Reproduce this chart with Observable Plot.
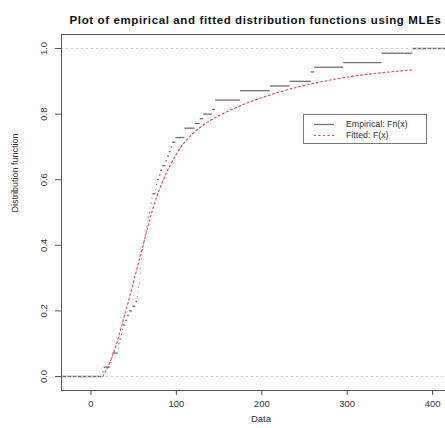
<!DOCTYPE html>
<html><head><meta charset="utf-8">
<script src="https://cdn.jsdelivr.net/npm/d3@7"></script>
<script src="https://cdn.jsdelivr.net/npm/@observablehq/plot@0.6"></script>
<style>
html,body{margin:0;padding:0;overflow:hidden;background:#fff;width:445px;height:428px}
#wrap{position:relative;width:460px;height:428px}
#legend{position:absolute;left:303px;top:114px;width:122px;height:28px;border:1px solid #777;background:#fff}
#legend svg{display:block}
</style></head><body><div id="wrap"></div>
<script>
// ECDF sample values read from the step positions
const sample = [14, 15.5, 23, 24.5, 25.5, 32, 33, 34, 36, 37, 38, 41, 43, 45, 49, 52.7, 54.5, 55.4, 56, 56.6,
  57.5, 57.8, 58.5, 59, 59.5, 60, 60.5, 61.7, 62.4, 63.6, 64.5, 65.5, 66.5, 67, 68.3, 69.5, 70.2, 71.5, 72.5, 76,
  77, 78, 80, 82, 84, 87.8, 89.8, 91.7, 94, 95.7, 99.5, 110, 110, 122, 128, 132, 142, 146, 146, 175,
  175, 210, 233, 258, 258, 262, 296, 341, 341, 377];
// Fitted CDF
const fitX = [14, 17, 20, 25, 30, 35, 40, 45, 50, 55, 60, 65, 70, 76, 84, 93, 105, 117, 129, 146, 164, 187, 214, 246, 267, 300, 340, 377];
const fitF = [0, 0.015, 0.03, 0.062, 0.1, 0.145, 0.192, 0.24, 0.29, 0.34, 0.39, 0.44, 0.49, 0.54, 0.595, 0.645, 0.698, 0.735, 0.762, 0.79, 0.813, 0.838, 0.862, 0.885, 0.897, 0.913, 0.926, 0.935];
const xTicks = [0, 100, 200, 300, 400];
const yTicks = [0, 0.2, 0.4, 0.6, 0.8, 1.0];
const refLines = [0, 1];
const title = "Plot of empirical and fitted distribution functions using MLEs";
const xLabel = "Data";
const yLabel = "Distribution function";
const legendLabels = ["Empirical: Fn(x)", "Fitted: F(x)"];

const xDomain = [-34.5, 432.7];
const yDomain = [-0.0427, 1.0427];

const n = sample.length;
const uniq = Array.from(new Set(sample)).sort((a, b) => a - b);
const steps = uniq.map((u, i) => ({
  x1: u,
  x2: i < uniq.length - 1 ? uniq[i + 1] : xDomain[1],
  F: sample.filter(v => v <= u).length / n
}));
steps.unshift({x1: xDomain[0], x2: uniq[0], F: 0});
const fit = fitX.map((x, i) => ({x, F: fitF[i]}));

const font = "'Liberation Sans', Arial, Helvetica, sans-serif";
const redCol = "#e4465a";
const stepCol = "#707070";

const chart = Plot.plot({
  width: 460, height: 428,
  marginTop: 34, marginBottom: 38, marginLeft: 61, marginRight: 0,
  style: {fontFamily: font, fontSize: "9px", background: "#fff", color: "#333"},
  x: {domain: xDomain, label: null},
  y: {domain: yDomain, label: null},
  marks: [
    Plot.ruleY(steps, {y: "F", x1: "x1", x2: "x2", stroke: stepCol, strokeWidth: 1.3}),
    Plot.ruleY(refLines, {stroke: "#c8c8c8", strokeDasharray: "2,3", strokeWidth: 1.1}),
    Plot.line(fit, {x: "x", y: "F", stroke: redCol, strokeWidth: 1.1, strokeDasharray: "2,2.5", curve: "monotone-x"}),
    Plot.frame({stroke: "#555"}),
    Plot.axisX({ticks: xTicks, tickSize: 5, tickPadding: 5, stroke: "#555", fill: "#333", fontSize: 9.5, label: null}),
    Plot.axisY({ticks: yTicks, tickSize: 6, tickFormat: () => "", stroke: "#555", label: null}),
    Plot.text(yTicks, {y: d => d, text: d => d.toFixed(1), frameAnchor: "left", dx: -18, rotate: -90, textAnchor: "middle", fill: "#333", fontSize: 9.5}),
    Plot.text([title], {frameAnchor: "top", dy: -18.5, dx: -5.5, fontWeight: "bold", fontSize: 11.5, fill: "#111"}),
    Plot.text([xLabel], {frameAnchor: "bottom", dy: 31, fontSize: 9.5, fill: "#333"}),
    Plot.text([yLabel], {frameAnchor: "left", dx: -46, rotate: -90, fontSize: 9, fill: "#333"})
  ]
});
const wrap = document.getElementById("wrap");
wrap.appendChild(chart);
// letter spacing for title
chart.querySelectorAll("text").forEach(t => { if (t.textContent === title) t.setAttribute("letter-spacing", "0.62"); });

// legend
const leg = document.createElement("div");
leg.id = "legend";
leg.innerHTML = `<svg width="122" height="28" font-family="${font.replace(/'/g, "")}" font-size="8.8">
  <line x1="10" x2="30" y1="9.5" y2="9.5" stroke="${stepCol}" stroke-width="1.2"/>
  <line x1="10" x2="30" y1="20.5" y2="20.5" stroke="${redCol}" stroke-width="1.1" stroke-dasharray="2,2.5"/>
  <text x="42" y="9.5" dominant-baseline="middle" fill="#333">${legendLabels[0]}</text>
  <text x="42" y="20.5" dominant-baseline="middle" fill="#333">${legendLabels[1]}</text>
</svg>`;
wrap.appendChild(leg);
</script></body></html>
